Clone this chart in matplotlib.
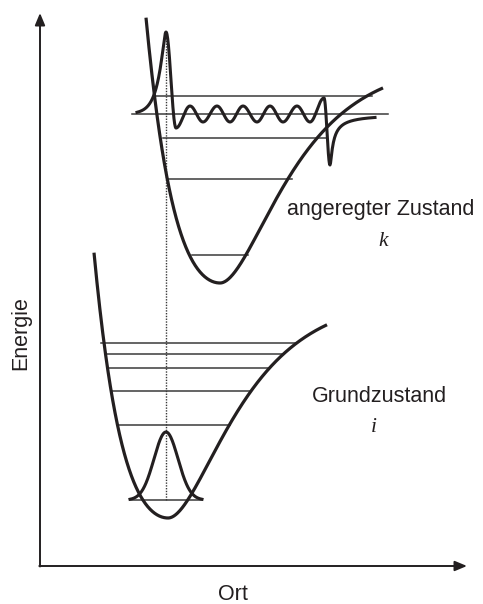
import numpy as np
import matplotlib.pyplot as plt

# everything is laid out in picture pixels (x to the right, y downwards)

# shape of both potential curves: Morse on the right, quartic wall on the left
morse_depth = 222.0
morse_a = 0.017
wall_c2 = 0.026
wall_c4 = 4.1e-6

ground_min = (168, 518)
ground_dx = (-74, 159)
excited_min = (220, 283)
excited_dx = (-74, 163)

# vibrational levels: height, left end, right end
ground_level_y = [500, 425, 391, 368, 354, 343]
ground_level_x0 = [130, 118, 112, 109, 107, 101]
ground_level_x1 = [202, 230, 250, 270, 283, 297]

excited_level_y = [255, 179, 138, 114, 96]
excited_level_x0 = [192, 168, 163, 132, 155]
excited_level_x1 = [248, 292, 327, 388, 372]

# ground state wavefunction (gaussian on the v=0 level)
psi0_center = 166
psi0_base = 500
psi0_height = 68
psi0_sigma = 12
psi0_span = (130, 202)

# excited state wavefunction: extrema and their amplitudes
psi_base = 114
psi_ext_x = [166, 176, 190, 203, 217, 230, 243, 257, 270, 283, 297, 310, 324, 330]
psi_ext_amp = [82, -14, 8, -8, 8, -8, 8, -8, 8, -8, 8, -8, 16, -51]
psi_left_start = 137
psi_left_decay = 7.0
psi_right_end = 375
psi_right_scale = 3.2

transition_x = 166
transition_y = (500, 32)

ink = '#231f20'
thin = '#3a3a3a'


def potential(dx):
    right = morse_depth * (1 - np.exp(-morse_a * dx)) ** 2
    left = wall_c2 * dx ** 2 + wall_c4 * dx ** 4
    return np.where(dx >= 0, right, left)


def excited_psi():
    xs, ys = [], []
    # left tail, exponential rise into the big lobe
    x = np.linspace(psi_left_start, psi_ext_x[0], 80)
    u = psi_ext_x[0] - x
    d = np.sqrt(u ** 2 + 4) - 2
    xs.append(x)
    ys.append(psi_ext_amp[0] * np.exp(-d / psi_left_decay))
    # oscillating part between the extrema
    for i in range(len(psi_ext_x) - 1):
        x = np.linspace(psi_ext_x[i], psi_ext_x[i + 1], 30)
        t = (x - x[0]) / (x[-1] - x[0])
        a0, a1 = psi_ext_amp[i], psi_ext_amp[i + 1]
        xs.append(x)
        ys.append(a0 + (a1 - a0) * (1 - np.cos(np.pi * t)) / 2)
    # right tail, creeping back to the level
    x = np.linspace(psi_ext_x[-1], psi_right_end, 80)
    u = x - psi_ext_x[-1]
    d = np.sqrt(u ** 2 + 1) - 1
    xs.append(x)
    ys.append(psi_ext_amp[-1] / (1 + d / psi_right_scale))
    x = np.concatenate(xs)
    y = psi_base - np.concatenate(ys)
    return x, y


fig = plt.figure(figsize=(4.83, 6.04), dpi=100)
ax = fig.add_axes([0, 0, 1, 1])
ax.set_xlim(0, 483)
ax.set_ylim(604, 0)
ax.axis('off')

# axes with arrows
arrow = dict(arrowstyle='-|>,head_length=0.6,head_width=0.25', lw=1.4,
             color=ink, shrinkA=0, shrinkB=0, mutation_scale=12)
ax.annotate('', xy=(40, 13), xytext=(40, 566.5), arrowprops=arrow)
ax.annotate('', xy=(467, 566), xytext=(39.3, 566), arrowprops=arrow)

# potential curves
for (x0, y0), (d0, d1) in [(ground_min, ground_dx), (excited_min, excited_dx)]:
    dx = np.linspace(d0, d1, 400)
    ax.plot(x0 + dx, y0 - potential(dx), color=ink, lw=2.3,
            solid_capstyle='butt', zorder=3)

# vibrational levels
for y, a, b in zip(ground_level_y, ground_level_x0, ground_level_x1):
    ax.plot([a, b], [y, y], color=thin, lw=1.1, zorder=2)
for y, a, b in zip(excited_level_y, excited_level_x0, excited_level_x1):
    ax.plot([a, b], [y, y], color=thin, lw=1.1, zorder=2)

# wavefunctions
x = np.linspace(psi0_span[0], psi0_span[1], 200)
ax.plot(x, psi0_base - psi0_height * np.exp(-(x - psi0_center) ** 2 / (2 * psi0_sigma ** 2)),
        color=ink, lw=2.2, zorder=4)
px, py = excited_psi()
ax.plot(px, py, color=ink, lw=2.2, zorder=4)

# vertical transition
ax.plot([transition_x, transition_x], list(transition_y), color=thin, lw=1.0,
        linestyle=(0, (1, 1)), zorder=1)

# labels
sans = 'Liberation Sans'
fs = 15.5
ax.text(21, 333, 'Energie', rotation=90, ha='center', va='center',
        fontsize=fs, family=sans, color=ink)
ax.text(233, 595, 'Ort', ha='center', va='center', fontsize=fs, family=sans, color=ink)
ax.text(381, 209, 'angeregter Zustand', ha='center', va='center',
        fontsize=fs, family=sans, color=ink)
ax.text(383, 241, 'k', ha='center', va='center', fontsize=fs,
        family='Liberation Serif', style='italic', color=ink)
ax.text(379, 397, 'Grundzustand', ha='center', va='center',
        fontsize=fs, family=sans, color=ink)
ax.text(374, 427, 'i', ha='center', va='center', fontsize=fs,
        family='Liberation Serif', style='italic', color=ink)

fig.savefig('out.png', dpi=100)
